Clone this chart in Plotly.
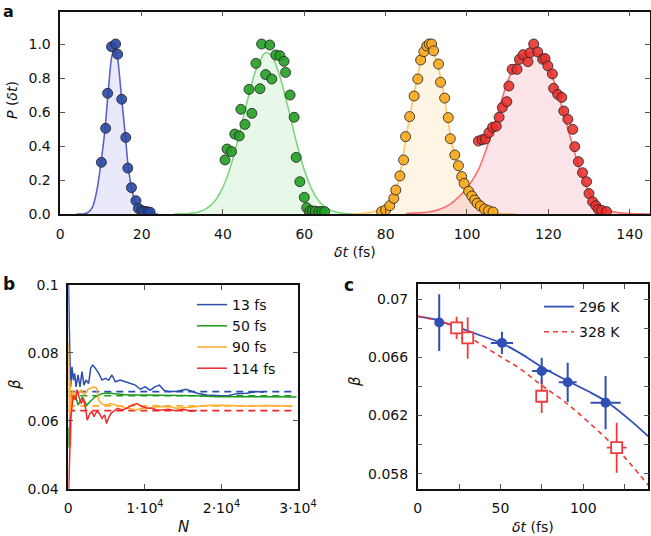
import plotly.graph_objects as go

W, H = 651, 536

# ---------------- Panel a data ----------------
a_blue_x = [10.1, 11.15, 11.64, 12.6, 13.6, 14.1, 15.1, 16.1, 16.6, 17.5, 18.6, 19.2, 20.0, 20.5, 21.1, 21.5, 22.1]
a_blue_y = [0.304, 0.504, 0.71, 0.984, 1.0, 0.94, 0.675, 0.45, 0.27, 0.155, 0.078, 0.033, 0.02, 0.015, 0.014, 0.012, 0.01]
a_green_x = [40.5, 41.0, 42.1, 42.9, 44.0, 44.4, 45.4, 46.4, 47.1, 48.1, 49.1, 49.5, 50.5, 51.5, 52.0, 53.0, 54.0,
             55.0, 55.4, 56.5, 57.5, 58.0, 58.9, 60.0, 60.6, 61.4, 62.0, 62.7, 63.6, 64.3, 65.0]
a_green_y = [0.318, 0.382, 0.367, 0.47, 0.459, 0.616, 0.527, 0.733, 0.592, 0.886, 0.737, 1.0, 0.82, 0.994, 0.794,
             0.935, 0.931, 0.898, 0.833, 0.70, 0.569, 0.333, 0.19, 0.098, 0.037, 0.018, 0.018, 0.016, 0.014, 0.014, 0.014]
a_orange_x = [79.0, 80.0, 81.0, 82.0, 82.5, 83.5, 84.4, 84.9, 85.9, 87.0, 87.9, 88.6, 89.4, 90.1, 90.7, 91.3, 91.8,
              93.0, 93.5, 94.5, 95.4, 95.9, 97.0, 97.9, 98.7, 99.3, 100.4, 101.2, 101.9, 102.5, 103.3, 104.3, 105.3, 106.4]
a_orange_y = [0.014, 0.024, 0.049, 0.092, 0.141, 0.224, 0.318, 0.455, 0.573, 0.694, 0.794, 0.906, 0.955, 0.988, 1.0,
              1.0, 0.96, 0.882, 0.775, 0.682, 0.567, 0.443, 0.347, 0.284, 0.22, 0.18, 0.134, 0.106, 0.082, 0.063,
              0.047, 0.029, 0.02, 0.012]
a_red_x = [102.8, 103.7, 104.5, 105.4, 106.3, 107.2, 107.9, 108.7, 109.8, 110.3, 111.1, 112.3, 112.9, 113.8, 115.0,
           115.5, 116.4, 117.4, 118.6, 119.2, 119.9, 121.0, 121.3, 122.3, 123.3, 123.8, 124.8, 126.0, 126.5, 127.4,
           128.4, 129.4, 130.0, 130.9, 131.7, 132.3, 133.1, 134.3]
a_red_y = [0.429, 0.437, 0.441, 0.478, 0.51, 0.516, 0.569, 0.627, 0.661, 0.753, 0.851, 0.851, 0.91, 0.937, 0.896,
           0.949, 1.0, 0.953, 0.91, 0.914, 0.871, 0.824, 0.739, 0.704, 0.686, 0.606, 0.557, 0.498, 0.396, 0.308,
           0.243, 0.19, 0.12, 0.072, 0.049, 0.027, 0.022, 0.014]

# fitted curves
fit_blue_x = [4, 5.7, 7, 8, 9, 10, 11, 12, 12.6, 13.3, 14, 15, 16, 16.6, 17.5, 18.5, 19.5, 20.5, 22, 24]
fit_blue_y = [0, 0, 0.012, 0.045, 0.14, 0.30, 0.50, 0.78, 0.92, 0.97, 0.93, 0.70, 0.46, 0.30, 0.155, 0.065, 0.02,
              0.005, 0.001, 0]
fit_green_x = [28, 30, 32, 34, 36, 38, 40, 42, 44, 46, 48, 50, 50.8, 52, 54, 56, 58, 60, 62, 64, 66, 68, 70, 72]
fit_green_y = [0, 0.001, 0.004, 0.012, 0.033, 0.076, 0.158, 0.289, 0.467, 0.667, 0.842, 0.94, 0.95, 0.929, 0.811,
               0.627, 0.428, 0.259, 0.138, 0.065, 0.027, 0.01, 0.003, 0]
fit_orange_x = [72, 74, 76, 78, 80, 82, 83, 84, 85, 86, 87, 88, 89, 90, 90.8, 91.5, 92, 93, 94, 95, 96, 97, 98, 99,
                100, 101, 102, 103, 104, 106, 108, 110, 112]
fit_orange_y = [0, 0.002, 0.008, 0.02, 0.045, 0.11, 0.18, 0.30, 0.45, 0.58, 0.71, 0.83, 0.94, 0.99, 1.0, 0.98, 0.94,
                0.86, 0.74, 0.60, 0.45, 0.34, 0.25, 0.18, 0.125, 0.09, 0.06, 0.04, 0.025, 0.01, 0.003, 0.001, 0]
fit_red_x = [85, 90, 93, 96, 100, 103, 106, 108, 110, 112, 114, 116, 118, 120, 122, 124, 126, 128, 130, 132, 134,
             137, 140, 145]
fit_red_y = [0.003, 0.01, 0.025, 0.06, 0.15, 0.27, 0.47, 0.63, 0.78, 0.89, 0.94, 0.95, 0.93, 0.86, 0.74, 0.57, 0.40,
             0.24, 0.13, 0.06, 0.025, 0.008, 0.002, 0]

# ---------------- Panel b data ----------------
b_labels = ["13 fs", "50 fs", "90 fs", "114 fs"]
b_blue_N = [0, 100, 140, 230, 310, 480, 660, 830, 1010, 1270, 1530, 1790, 2050, 2310, 2660, 2920, 3180, 3530, 3970,
            4400, 4830, 5270, 5700, 6140, 6790, 7450, 8100, 8750, 9400, 10050, 10700, 11300, 11900, 12500, 13100,
            14100, 15400, 16800, 18100, 19400, 20700, 22000, 23300, 24600, 25500]
b_blue_beta = [0.104, 0.0966, 0.0867, 0.0769, 0.070, 0.0759, 0.072, 0.074, 0.070, 0.0735, 0.070, 0.0745, 0.0705,
               0.072, 0.071, 0.0755, 0.0764, 0.0755, 0.074, 0.072, 0.0725, 0.072, 0.0735, 0.0715, 0.072, 0.0715,
               0.071, 0.0705, 0.0693, 0.070, 0.069, 0.070, 0.0705, 0.069, 0.0686, 0.0686, 0.0693, 0.0681, 0.0676,
               0.0675, 0.0673, 0.0680, 0.0681, 0.0686, 0.0684]
b_green_N = [0, 100, 200, 300, 450, 600, 915, 1270, 1830, 2400, 2830, 3480, 4350, 5220, 6100, 7840, 10000, 12000,
             14100, 16800, 19400, 22000, 24600, 27000, 29800]
b_green_beta = [0.058, 0.052, 0.060, 0.0655, 0.068, 0.0665, 0.0676, 0.0646, 0.067, 0.0646, 0.0656, 0.067, 0.068,
                0.0682, 0.068, 0.0676, 0.0676, 0.0676, 0.0676, 0.0674, 0.0671, 0.0671, 0.067, 0.0671, 0.067]
b_orange_N = [0, 50, 140, 230, 310, 400, 570, 750, 1010, 1360, 1700, 2050, 2480, 2920, 3350, 3700, 3970, 4310, 4830,
              5480, 6140, 7010, 7880, 8750, 9620, 10500, 11400, 12200, 13500, 14000, 16000, 18000, 20000, 22000,
              24000, 26000, 28000, 29300]
b_orange_beta = [0.083, 0.0799, 0.0622, 0.072, 0.0524, 0.0641, 0.0691, 0.0661, 0.0691, 0.0681, 0.0691, 0.0676,
                 0.0691, 0.0696, 0.070, 0.0696, 0.0661, 0.0651, 0.0646, 0.0651, 0.0646, 0.0641, 0.0637, 0.0632,
                 0.0637, 0.0637, 0.0641, 0.0642, 0.0641, 0.0637, 0.0640, 0.0645, 0.0646, 0.0645, 0.0643, 0.0645,
                 0.0644, 0.0643]
b_red_N = [0, 50, 140, 230, 310, 480, 660, 915, 1180, 1440, 1700, 1960, 2220, 2480, 2830, 3090, 3350, 3700, 4050,
           4400, 4750, 5000, 5220, 5570, 5920, 6440, 7010, 7660, 8310, 8970, 9620, 10300, 10900, 11600, 12200, 13100,
           14000, 15000, 16000, 16800]
b_red_beta = [0.035, 0.04, 0.0465, 0.0543, 0.0602, 0.0641, 0.0676, 0.0661, 0.0691, 0.0666, 0.0651, 0.0666, 0.0641,
              0.0602, 0.0622, 0.0627, 0.0612, 0.0627, 0.0622, 0.0607, 0.0617, 0.0592, 0.0607, 0.0622, 0.0627,
              0.0637, 0.0632, 0.0637, 0.0646, 0.0651, 0.0642, 0.0638, 0.0637, 0.0632, 0.0632, 0.0634, 0.0630,
              0.0634, 0.0628, 0.0630]
b_means = [0.0686, 0.0674, 0.0644, 0.0630]
b_mean_N = [0, 29800]

# ---------------- Panel c data ----------------
c296_dt = [13.0, 50.9, 74.9, 90.6, 113.5]
c296_beta = [0.0684, 0.0670, 0.06507, 0.06429, 0.06289]
c296_err_beta = [0.00195, 0.00077, 0.0009, 0.00135, 0.00183]
c296_err_dt = [0, 6.7, 5.8, 5.4, 9.1]
c328_dt = [23.5, 30.2, 74.9, 120.2]
c328_beta = [0.06803, 0.06734, 0.06333, 0.05979]
c328_err_beta = [0.00077, 0.00143, 0.00115, 0.00172]
c328_err_dt = [2.5, 4.0, 0, 6.0]
fit296_dt = [0, 10.4, 12.9, 26.6, 36.7, 50.3, 62.3, 74.9, 90.3, 103, 113.5, 127.2, 139.3]
fit296_beta = [0.06883, 0.06862, 0.06852, 0.06798, 0.06756, 0.06700, 0.06626, 0.06534, 0.0644, 0.06367, 0.06300,
               0.06179, 0.06057]
fit328_dt = [0, 20.5, 32.6, 50.3, 62.3, 74.9, 89, 103, 119.2, 129.2, 139.3]
fit328_beta = [0.06883, 0.06821, 0.06729, 0.06603, 0.06518, 0.06408, 0.06293, 0.06156, 0.05984, 0.05858, 0.0572]

# ---------------- styling ----------------
FONT = "DejaVu Sans"
TXT = "#111"


def fx(px):
    return px / W


def fy(py):
    return 1 - py / H


fig = go.Figure()

# Panel a fits (fills)
fits = [
    (fit_blue_x, fit_blue_y, "#5d62c9", "rgba(110,110,225,0.15)"),
    (fit_green_x, fit_green_y, "#7fd47f", "rgba(90,205,90,0.14)"),
    (fit_orange_x, fit_orange_y, "#ffc863", "rgba(250,185,70,0.14)"),
    (fit_red_x, fit_red_y, "#ff6e70", "rgba(245,90,110,0.16)"),
]
for xs, ys, lc, fc in fits:
    fig.add_trace(go.Scatter(x=xs, y=ys, mode="lines", line=dict(color=lc, width=1.6, shape="spline", smoothing=0.6),
                             fill="tozeroy", fillcolor=fc, xaxis="x", yaxis="y", showlegend=False,
                             hoverinfo="skip"))
pts = [
    (a_blue_x, a_blue_y, "rgba(40,72,165,0.9)"),
    (a_green_x, a_green_y, "rgba(34,160,34,0.9)"),
    (a_orange_x, a_orange_y, "rgba(248,168,28,0.9)"),
    (a_red_x, a_red_y, "rgba(232,45,42,0.88)"),
]
for xs, ys, c in pts:
    fig.add_trace(go.Scatter(x=xs, y=ys, mode="markers",
                             marker=dict(size=10, color=c, line=dict(color="rgba(40,40,40,0.85)", width=1)),
                             xaxis="x", yaxis="y", showlegend=False))

# Panel b
b_colors = ["#2b4db0", "#1c9a1c", "#ffad2b", "#ee2a2a"]
for m, c in zip(b_means, b_colors):
    fig.add_trace(go.Scatter(x=b_mean_N, y=[m, m], mode="lines", line=dict(color=c, width=1.6, dash="7px,5px"),
                             xaxis="x2", yaxis="y2", showlegend=False, hoverinfo="skip"))
for (xs, ys), c, lab in zip([(b_blue_N, b_blue_beta), (b_green_N, b_green_beta), (b_orange_N, b_orange_beta),
                             (b_red_N, b_red_beta)], b_colors, b_labels):
    fig.add_trace(go.Scatter(x=xs, y=ys, mode="lines", line=dict(color=c, width=1.5), name=lab,
                             xaxis="x2", yaxis="y2", legend="legend"))

# Panel c
fig.add_trace(go.Scatter(x=fit296_dt, y=fit296_beta, mode="lines", name="296 K",
                         line=dict(color="#2f4fb5", width=1.8, shape="spline"),
                         xaxis="x3", yaxis="y3", legend="legend2", legendgroup="g1"))
fig.add_trace(go.Scatter(x=fit328_dt, y=fit328_beta, mode="lines", name="328 K",
                         line=dict(color="#f03a3a", width=1.6, shape="spline", dash="5px,4px"),
                         xaxis="x3", yaxis="y3", legend="legend2", legendgroup="g2"))
fig.add_trace(go.Scatter(x=c328_dt, y=c328_beta, mode="markers",
                         marker=dict(symbol="square", size=11, color="white", line=dict(color="#f03a3a", width=1.8)),
                         error_y=dict(type="data", array=c328_err_beta, color="#f03a3a", thickness=1.8, width=0),
                         error_x=dict(type="data", array=c328_err_dt, color="#f03a3a", thickness=1.8, width=0),
                         xaxis="x3", yaxis="y3", showlegend=False))
fig.add_trace(go.Scatter(x=c296_dt, y=c296_beta, mode="markers",
                         marker=dict(symbol="circle", size=10, color="#2f4fb5"),
                         error_y=dict(type="data", array=c296_err_beta, color="#2f4fb5", thickness=2, width=0),
                         error_x=dict(type="data", array=c296_err_dt, color="#2f4fb5", thickness=2, width=0),
                         xaxis="x3", yaxis="y3", showlegend=False))

axis_common = dict(showline=True, linecolor="#111", linewidth=1.5, mirror="ticks", ticks="inside",
                   ticklen=5, tickwidth=1, tickcolor="#555", showgrid=False, zeroline=False, automargin=False,
                   tickfont=dict(family=FONT, size=14, color=TXT), fixedrange=True)
minor_common = dict(ticks="inside", ticklen=5, tickwidth=1, tickcolor="#555", showgrid=False)

fig.update_layout(
    width=W, height=H, margin=dict(l=0, r=0, t=0, b=0, autoexpand=False),
    paper_bgcolor="white", plot_bgcolor="white",
    font=dict(family=FONT, size=14, color=TXT),
    xaxis=dict(domain=[fx(60.3), fx(650)], range=[0, 145], tickvals=[0, 20, 40, 60, 80, 100, 120, 140],
               anchor="y", ticklabelstandoff=6, **axis_common),
    yaxis=dict(domain=[fy(214), fy(11.7)], range=[0, 1.19], tickvals=[0, 0.2, 0.4, 0.6, 0.8, 1.0],
               ticktext=["0.0", "0.2", "0.4", "0.6", "0.8", "1.0"], anchor="x", ticklabelstandoff=5,
               **axis_common),
    xaxis2=dict(domain=[fx(68.3), fx(298)], range=[0, 30000], tickvals=[0, 10000, 20000, 30000],
                ticktext=["0", "1·10<sup>4</sup>", "2·10<sup>4</sup>", "3·10<sup>4</sup>"], anchor="y2",
                ticklabelstandoff=6, **axis_common),
    yaxis2=dict(domain=[fy(488.7), fy(285)], range=[0.04, 0.1], tickvals=[0.04, 0.06, 0.08, 0.1],
                ticktext=["0.04", "0.06", "0.08", "0.1"], anchor="x2", ticklabelstandoff=5, **axis_common),
    xaxis3=dict(domain=[fx(417.7), fx(648.3)], range=[0, 139.3], tickvals=[0, 50, 100],
                minor=dict(tickvals=[25, 75, 125], **minor_common),
                anchor="y3", ticklabelstandoff=6, **axis_common),
    yaxis3=dict(domain=[fy(488.7), fy(284.3)], range=[0.05697, 0.07103],
                tickvals=[0.058, 0.062, 0.066, 0.070], ticktext=["0.058", "0.062", "0.066", "0.07"],
                minor=dict(tickvals=[0.060, 0.064, 0.068], **minor_common),
                anchor="x3", ticklabelstandoff=5, **axis_common),
    legend=dict(x=fx(192), y=fy(289), xanchor="left", yanchor="top", bgcolor="rgba(0,0,0,0)",
                font=dict(family=FONT, size=14, color=TXT), tracegroupgap=0, itemwidth=30),
    legend2=dict(x=fx(539), y=fy(291), xanchor="left", yanchor="top", bgcolor="rgba(0,0,0,0)",
                 font=dict(family=FONT, size=14, color=TXT), tracegroupgap=4, itemwidth=30),
)

ann = [
    dict(x=fx(1), y=fy(0), text="<b>a</b>", xanchor="left", yanchor="top", font=dict(size=16)),
    dict(x=fx(1), y=fy(272), text="<b>b</b>", xanchor="left", yanchor="top", font=dict(size=17)),
    dict(x=fx(342), y=fy(273), text="<b>c</b>", xanchor="left", yanchor="top", font=dict(size=17)),
    dict(x=fx(355), y=fy(252), text="<i>δt</i> (fs)", xanchor="center", yanchor="middle", font=dict(size=14)),
    dict(x=fx(12), y=fy(100), text="<i>P</i> (<i>δt</i>)", textangle=-90, xanchor="center", yanchor="middle",
         font=dict(size=14)),
    dict(x=fx(15), y=fy(385), text="<i>β</i>", textangle=-90, xanchor="center", yanchor="middle",
         font=dict(size=15)),
    dict(x=fx(183), y=fy(527), text="<i>N</i>", xanchor="center", yanchor="middle", font=dict(size=15)),
    dict(x=fx(355), y=fy(382), text="<i>β</i>", textangle=-90, xanchor="center", yanchor="middle",
         font=dict(size=15)),
    dict(x=fx(533), y=fy(527), text="<i>δt</i> (fs)", xanchor="center", yanchor="middle", font=dict(size=14)),
]
for a in ann:
    a.update(xref="paper", yref="paper", showarrow=False)
    a["font"] = dict(family=FONT, color=TXT, **a["font"])
fig.update_layout(annotations=ann)

fig.write_html("out.html", config={"displayModeBar": False},
               post_script="document.body.style.margin='0px';document.body.style.overflow='hidden';")
